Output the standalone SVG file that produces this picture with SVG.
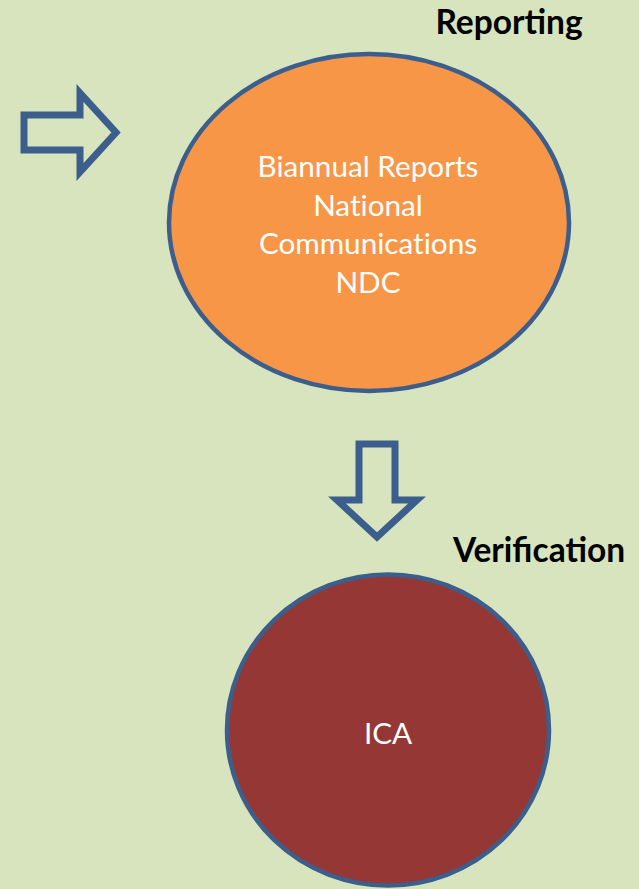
<svg xmlns="http://www.w3.org/2000/svg" width="639" height="889" viewBox="0 0 639 889">
<style>
.arrow{fill:none;stroke:#3B5E8C;stroke-width:7;stroke-linejoin:miter}
.node{stroke:#3B5E8C;stroke-width:4.5}
.lbl{font-family:Lato,"Liberation Sans",sans-serif;fill:#FFFFFF;font-size:29.7px;text-anchor:middle;font-variant-ligatures:none}
.title{font-family:Lato,"Liberation Sans",sans-serif;font-weight:bold;fill:#000000;font-size:33.5px;text-anchor:middle}
</style>
<rect x="0" y="0" width="639" height="889" fill="#D7E4BD"/>
<g id="connectors">
<path class="arrow" d="M24,115 L80,115 L80,93 L116,132.5 L80,172 L80,150 L24,150 Z"/>
<path class="arrow" d="M359,444 L395,444 L395,500 L417,500 L377,537 L337,500 L359,500 Z"/>
</g>
<g id="reporting">
<ellipse class="node" cx="369" cy="222.5" rx="200" ry="168.5" fill="#F79646"/>
<text class="lbl" x="368" y="177">Biannual Reports</text>
<text class="lbl" x="368" y="215.5">National</text>
<text class="lbl" x="368" y="254">Communications</text>
<text class="lbl" x="368" y="292.5">NDC</text>
</g>
<g id="reporting-title">
<text class="title" x="509" y="34">Reporting</text>
</g>
<g id="verification-title">
<text class="title" x="539" y="562">Verification</text>
</g>
<g id="verification">
<ellipse class="node" cx="388" cy="730" rx="161" ry="155.5" fill="#953735"/>
<text class="lbl" x="388" y="744">ICA</text>
</g>
</svg>
